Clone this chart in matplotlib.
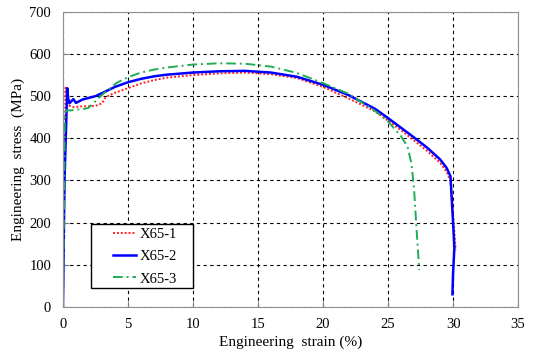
import matplotlib
matplotlib.use("Agg")
import matplotlib.pyplot as plt
from matplotlib.patches import Rectangle

# ---- data ----
strain_1 = [0, 0.12, 0.2, 0.3, 0.5, 0.8, 1.2, 1.6, 2.0, 2.5, 3.0, 3.3, 4.0, 5.0, 6.0, 7.0,
            8.0, 10.0, 12.0, 14.0, 15.0, 16.0, 18.0, 20.0, 22.0, 24.0, 25.0, 26.0, 27.0,
            28.0, 29.0, 29.5, 29.8, 30.0, 30.2]
stress_1 = [0, 330, 520, 495, 477, 474, 475, 476, 476, 477, 483, 498, 508, 519, 530, 538,
            544, 550, 554, 556, 554, 552, 543, 522, 494, 464, 442, 419, 395,
            370, 342, 321, 298, 220, 135]

strain_2 = [0, 0.12, 0.33, 0.4, 0.5, 0.8, 1.0, 1.5, 2.0, 2.5, 3.0, 4.0, 5.0, 6.0, 7.0,
            8.0, 10.0, 12.0, 14.0, 15.0, 16.0, 18.0, 20.0, 22.0, 24.0, 25.0, 26.0, 27.0,
            28.0, 29.0, 29.5, 29.8, 30.0, 30.1, 30.0, 29.95]
stress_2 = [0, 300, 519, 495, 483, 493, 484, 492, 496, 500, 507, 522, 533, 541, 547,
            551, 556, 559, 560, 558, 556, 546, 527, 502, 470, 448, 425, 402,
            378, 350, 330, 310, 200, 140, 80, 30]

strain_3 = [0, 0.05, 0.15, 0.3, 0.6, 1.0, 1.5, 1.95, 2.4, 3.0, 3.6, 4.1, 5.0, 6.0, 7.0,
            8.0, 10.0, 12.0, 14.0, 16.0, 18.0, 20.0, 22.0, 23.0, 24.0, 25.0, 26.0, 26.5,
            26.8, 27.0, 27.2, 27.4]
stress_3 = [0, 150, 460, 467, 466, 468, 469, 472, 485, 503, 518, 531, 545, 556, 563,
            568, 575, 578, 577, 570, 555, 531, 505, 485, 465, 440, 405, 380,
            340, 280, 180, 88]

labels = ["X65-1", "X65-2", "X65-3"]
x_ticks = [0, 5, 10, 15, 20, 25, 30, 35]
y_ticks = [0, 100, 200, 300, 400, 500, 600, 700]

plt.rcParams['font.family'] = ['Liberation Serif', 'DejaVu Serif']
plt.rcParams['font.size'] = 10.5

fig = plt.figure(figsize=(5.38, 3.59), dpi=100)
ax = fig.add_axes([0.117, 0.145, 0.846, 0.822])

ax.plot(strain_1, stress_1, color='#ff2020', lw=1.4, linestyle=(0, (1, 1)), label=labels[0])
ax.plot(strain_2, stress_2, color='#0000ff', lw=1.8, linestyle='-', label=labels[1])
ax.plot(strain_3, stress_3, color='#1fae55', lw=1.4, linestyle=(0, (5, 2, 1, 2)), label=labels[2])

ax.set_xlim(0, 35)
ax.set_ylim(0, 700)
ax.set_xticks(x_ticks)
ax.set_yticks(y_ticks)
ax.tick_params(direction='in', length=4, color='#808080')
ax.tick_params(axis='y', pad=8.5)
ax.tick_params(axis='x', pad=8)
ax.grid(True, color='black', linestyle=(0, (3, 3)), linewidth=0.8)
for s in ax.spines.values():
    s.set_color('#909090')

ax.set_xlabel("Engineering  strain (%)", fontsize=11, labelpad=3)
ax.set_ylabel("Engineering  stress  (MPa)", fontsize=11, labelpad=3)

# legend frame drawn separately (wide side padding like the original)
ax.add_patch(Rectangle((0.0615, 0.064), 0.2245, 0.217, transform=ax.transAxes,
                       facecolor='white', edgecolor='black', lw=1.0, zorder=4))
leg = ax.legend(loc='upper left', bbox_to_anchor=(0.11, 0.268), frameon=False,
                handlelength=1.6, borderaxespad=0, borderpad=0,
                labelspacing=0.62, handletextpad=0.2)
leg.set_zorder(5)

fig.savefig("out.png", dpi=100)
